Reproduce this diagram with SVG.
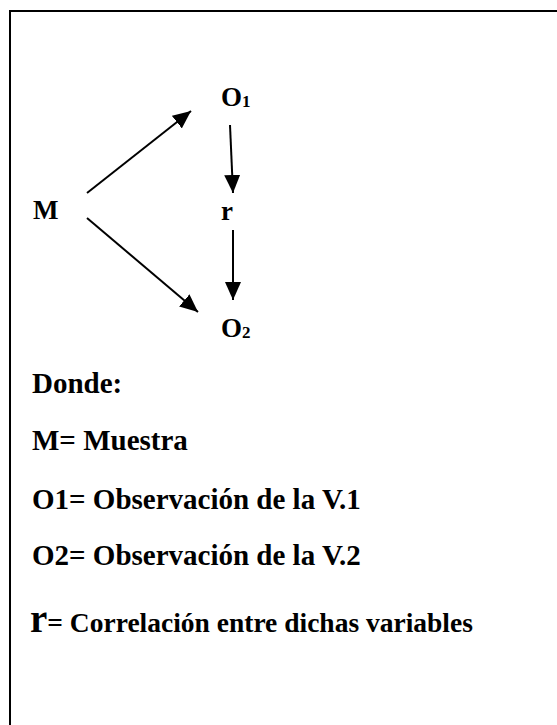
<svg xmlns="http://www.w3.org/2000/svg" width="557" height="725" viewBox="0 0 557 725">
<defs>
<style>
text{font-family:"Liberation Serif","Times New Roman",serif;font-weight:bold;fill:#000;}
.lbl{font-size:27px;}
.sub{font-size:17px;}
.leg{font-size:29px;}
.conn{stroke:#000;stroke-width:2;fill:none;marker-end:url(#ah);}
</style>
<marker id="ah" markerUnits="userSpaceOnUse" markerWidth="18" markerHeight="16" refX="18" refY="8" orient="auto">
<path d="M0,0 L18,8 L0,16 Z" fill="#000"/>
</marker>
</defs>
<rect x="10" y="11" width="600" height="800" fill="#fff" stroke="#000" stroke-width="2"/>
<g id="connectors">
<line class="conn" x1="87" y1="193" x2="191" y2="111"/>
<line class="conn" x1="87" y1="218" x2="198" y2="312"/>
<line class="conn" x1="230" y1="125" x2="233" y2="193"/>
<line class="conn" x1="233" y1="230" x2="233" y2="300"/>
</g>
<g id="node-M"><text class="lbl" x="33" y="219">M</text></g>
<g id="node-O1"><text class="lbl" x="221" y="106">O<tspan class="sub" dy="1">1</tspan></text></g>
<g id="node-r"><text class="lbl" x="221" y="220">r</text></g>
<g id="node-O2"><text class="lbl" x="221" y="337">O<tspan class="sub" dy="1">2</tspan></text></g>
<g id="legend">
<text class="leg" x="32" y="393">Donde:</text>
<text class="leg" x="32" y="450">M= Muestra</text>
<text class="leg" x="32" y="509">O1= Observación de la V.1</text>
<text class="leg" x="32" y="565">O2= Observación de la V.2</text>
<text class="leg" x="30" y="632" style="font-size:27.5px"><tspan style="font-size:39px">r</tspan>= Correlación entre dichas variables</text>
</g>
</svg>
